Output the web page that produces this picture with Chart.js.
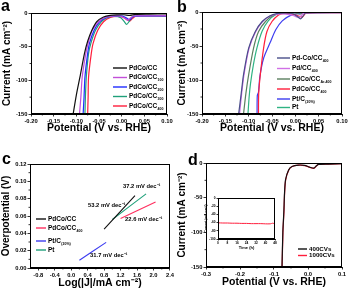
<!DOCTYPE html>
<html>
<head>
<meta charset="utf-8">
<script src="https://cdn.jsdelivr.net/npm/chart.js@4.4.1/dist/chart.umd.min.js"></script>
<style>
  html, body { margin: 0; padding: 0; background: #fff; width: 349px; height: 291px; overflow: hidden; }
  .panel { position: absolute; }
  .panel canvas { display: block; }
  .letter { position: absolute; font: bold 16px "Liberation Sans", Arial, sans-serif; line-height: 16px; color: #000; }
</style>
</head>
<body>
<div class="panel" style="left:0;top:0"><canvas id="chart-a" width="175" height="145"></canvas></div>
<div class="panel" style="left:175px;top:0"><canvas id="chart-b" width="174" height="145"></canvas></div>
<div class="panel" style="left:0;top:145px"><canvas id="chart-c" width="175" height="146"></canvas></div>
<div class="panel" style="left:175px;top:145px"><canvas id="chart-d" width="174" height="146"></canvas></div>
<div class="panel" style="left:203px;top:193px"><canvas id="chart-inset" width="76" height="58"></canvas></div>
<div class="letter" style="left:1px;top:-2px">a</div>
<div class="letter" style="left:177px;top:-1px">b</div>
<div class="letter" style="left:2px;top:151px">c</div>
<div class="letter" style="left:188px;top:152px">d</div>

<script>
/* ============================================================
   LSV / Tafel — PdCo/CC, 4 panneaux
   ============================================================ */

/* ── Panneau a : LSV [potentiel (V), courant (mA cm-2)] ── */
const A_PDCO_CC  = [[-0.107,-150],[-0.100,-122],[-0.092,-95],[-0.082,-60],[-0.075,-42],[-0.066,-26],[-0.055,-13],[-0.040,-6],[-0.025,-3.5],[-0.010,-2.8],[0.005,-2.6],[0.018,-3.5],[0.030,-2],[0.060,-1.6],[0.100,-1.4]];
const A_PDCO_100 = [[-0.093,-150],[-0.090,-125],[-0.087,-95],[-0.079,-60],[-0.074,-45],[-0.065,-26],[-0.051,-13],[-0.036,-6.5],[-0.020,-4.5],[-0.005,-4.5],[0.006,-7.5],[0.013,-11],[0.020,-7],[0.026,-4.5],[0.050,-4.3],[0.100,-4]];
const A_PDCO_200 = [[-0.085,-150],[-0.083,-125],[-0.081,-95],[-0.075,-60],[-0.071,-45],[-0.061,-26],[-0.049,-13],[-0.034,-6.5],[-0.018,-4.5],[0.002,-4.5],[0.011,-7.5],[0.018,-10],[0.024,-6],[0.030,-4.6],[0.060,-4.4],[0.100,-4.2]];
const A_PDCO_300 = [[-0.081,-150],[-0.080,-125],[-0.078,-95],[-0.073,-60],[-0.068,-45],[-0.058,-26],[-0.045,-13],[-0.031,-6.5],[-0.015,-5],[-0.002,-7],[0.005,-12],[0.011,-17],[0.016,-13],[0.022,-6.5],[0.030,-4.8],[0.060,-4.6],[0.100,-4.4]];
const A_PDCO_400 = [[-0.075,-150],[-0.074,-125],[-0.073,-95],[-0.067,-60],[-0.063,-45],[-0.053,-26],[-0.040,-13],[-0.025,-6.5],[-0.010,-5],[0.004,-6.5],[0.012,-10],[0.018,-12],[0.024,-8],[0.030,-5],[0.060,-4.8],[0.100,-4.6]];

/* ── Panneau b : LSV comparaison catalyseurs ── */
const B_PD_CO_400  = [[-0.1215,-150],[-0.116,-120],[-0.111,-92],[-0.100,-53],[-0.086,-29],[-0.071,-14],[-0.055,-6],[-0.040,-2.5],[-0.020,-1.5],[-0.005,-2.5],[0.005,-7],[0.011,-10],[0.016,-6.5],[0.022,-1.5],[0.050,-1],[0.100,-0.8]];
const B_PD_400     = [[-0.1195,-150],[-0.115,-120],[-0.110,-92],[-0.099,-53],[-0.085,-29],[-0.070,-14],[-0.054,-6],[-0.038,-3],[-0.020,-3],[-0.005,-5],[0.004,-7.5],[0.010,-7],[0.018,-2],[0.050,-1],[0.100,-0.8]];
const B_PDCO_AR400 = [[-0.111,-150],[-0.106,-120],[-0.100,-92],[-0.0895,-53],[-0.079,-29],[-0.064,-14],[-0.048,-5],[-0.030,-1.5],[0.000,-1.5],[0.010,-3],[0.020,-1],[0.100,-0.5]];
const B_PDCO_400   = [[-0.0790,-150],[-0.0785,-120],[-0.075,-92],[-0.068,-53],[-0.061,-29],[-0.050,-14],[-0.036,-4.5],[-0.025,-2],[-0.005,-3],[0.007,-6],[0.015,-7.5],[0.022,-2],[0.050,-1],[0.100,-0.8]];
const B_PT_C20     = [[-0.0820,-150],[-0.0815,-123],[-0.079,-118],[-0.076,-95],[-0.068,-68],[-0.054,-45],[-0.042,-26],[-0.028,-13],[-0.010,-5],[0.010,-2],[0.030,-1],[0.100,-0.6]];
const B_PT         = [[-0.1015,-150],[-0.099,-125],[-0.096,-105],[-0.090,-78],[-0.082,-52],[-0.071,-28],[-0.058,-13],[-0.043,-4.5],[-0.025,-1.5],[0.000,-1],[0.100,-0.5]];

/* ── Panneau c : droites de Tafel [log|J|, surtension (V)] ── */
const C_PDCO_CC  = [[0.80,0.0449],[1.55,0.0836]];
const C_PDCO_400 = [[1.20,0.0570],[2.05,0.0762]];
const C_PT_C20   = [[0.20,0.0090],[0.85,0.0296]];
const C_PT       = [[1.00,0.0560],[1.82,0.0855]];
const C_SLOPES   = ['37.2 mV dec⁻¹', '53.2 mV dec⁻¹', '22.6 mV dec⁻¹', '31.7 mV dec⁻¹'];
const C_SLOPE_AT = [[1.26,0.0936],[0.41,0.0728],[1.31,0.0556],[0.46,0.0142]];

/* ── Panneau d : stabilité (400 / 1000 cycles) ── */
const D_400CV  = [[-0.0765,-150],[-0.074,-100],[-0.071,-70],[-0.069,-43],[-0.066,-24],[-0.057,-10],[-0.047,-5],[-0.028,-3],[-0.010,-3.5],[0.005,-6],[0.017,-7.5],[0.025,-4],[0.031,-2],[0.060,-1.5],[0.100,-1]];
const D_1000CV = [[-0.0762,-150],[-0.0737,-100],[-0.0707,-70],[-0.0687,-43],[-0.0655,-24],[-0.0565,-10],[-0.0465,-5],[-0.028,-3.2],[-0.010,-3.7],[0.005,-6.2],[0.017,-7.8],[0.025,-4.2],[0.031,-2],[0.060,-1.5],[0.100,-1]];
const INSET_TIME    = [0, 4, 8, 12, 16, 20, 24, 28, 32, 36, 40, 44, 46, 48];
const INSET_CURRENT = [-60.5, -61, -61, -61.5, -61.5, -62, -62, -62.5, -62.5, -62.5, -63, -63, -61.5, -63];

/* ── Graduations (principales / secondaires) ── */
const LSV_X_TICKS   = [-0.20, -0.15, -0.10, -0.05, 0.00, 0.05, 0.10];
const LSV_X_MINOR   = [-0.175, -0.125, -0.075, -0.025, 0.025, 0.075];
const LSV_Y_TICKS   = [-150, -100, -50, 0];
const LSV_Y_MINOR   = [-125, -75, -25];
const TAFEL_X_TICKS = [-0.8, -0.4, 0.0, 0.4, 0.8, 1.2, 1.6, 2.0, 2.4];
const TAFEL_X_MINOR = [-0.6, -0.2, 0.2, 0.6, 1.0, 1.4, 1.8, 2.2];
const TAFEL_Y_TICKS = [0.00, 0.02, 0.04, 0.06, 0.08, 0.10, 0.12];
const TAFEL_Y_MINOR = [0.01, 0.03, 0.05, 0.07, 0.09, 0.11];
const D_X_TICKS     = [-0.3, -0.2, -0.1, 0.0, 0.1];
const D_X_MINOR     = [-0.25, -0.15, -0.05, 0.05];
const INSET_X_TICKS = [0, 8, 16, 24, 32, 40, 48];
const INSET_Y_TICKS = [0, -20, -40, -60, -80, -100];

const COLORS = {
  black: '#111111',
  purple: '#c24fd8',
  blue: '#1f2bff',
  teal: '#1fa07a',
  red: '#ff1e3c',
  slate: '#4a4f8a',
  violet: '#d070e6',
  olive: '#5b7f5f',
  ptBlue: '#3d3df0',
  green: '#2fb383',
  pink: '#ff2f5f',
};

const FONT = '"Liberation Sans", Arial, sans-serif';
Chart.defaults.font.family = FONT;
Chart.defaults.color = '#000';

const toXY = pts => pts.map(p => ({ x: p[0], y: p[1] }));
const series = (label, sub, pts, color) => ({ label, sub, data: toXY(pts), borderColor: color, backgroundColor: color });

/* ── Cadre complet + graduations secondaires ── */
const framePlugin = {
  id: 'frame',
  afterDatasetsDraw(chart, args, opts) {
    const { ctx, chartArea: a, scales } = chart;
    ctx.save();
    ctx.strokeStyle = '#000';
    ctx.lineWidth = 1;
    ctx.strokeRect(Math.round(a.left) + 0.5, Math.round(a.top) + 0.5, Math.round(a.right - a.left) - 1, Math.round(a.bottom - a.top) - 1);
    ctx.lineWidth = 0.8;
    ctx.beginPath();
    (opts.minorX || []).forEach(v => {
      const px = scales.x.getPixelForValue(v);
      ctx.moveTo(px, a.bottom);
      ctx.lineTo(px, a.bottom + 1.5);
    });
    (opts.minorY || []).forEach(v => {
      const py = scales.y.getPixelForValue(v);
      ctx.moveTo(a.left, py);
      ctx.lineTo(a.left - 1.5, py);
    });
    ctx.stroke();
    ctx.restore();
  }
};

/* ── Légende dessinée dans la zone de tracé (avec indices) ── */
const inLegendPlugin = {
  id: 'inLegend',
  afterDraw(chart, args, opts) {
    if (!opts || !opts.ys) return;
    const ctx = chart.ctx;
    ctx.save();
    ctx.textBaseline = 'middle';
    chart.data.datasets.forEach((ds, i) => {
      const y = opts.ys[i];
      ctx.strokeStyle = ds.borderColor;
      ctx.lineWidth = 1.4;
      ctx.beginPath();
      ctx.moveTo(opts.x, y);
      ctx.lineTo(opts.x + opts.lineLen, y);
      ctx.stroke();
      const tx = opts.x + opts.lineLen + 2;
      ctx.fillStyle = '#000';
      ctx.font = `bold ${opts.size}px ${FONT}`;
      ctx.fillText(ds.label, tx, y);
      if (ds.sub) {
        const w = ctx.measureText(ds.label).width;
        ctx.font = `bold ${opts.size * 0.55}px ${FONT}`;
        ctx.fillText(ds.sub, tx + w + 0.3, y + opts.size * 0.45);
      }
    });
    ctx.restore();
  }
};

/* ── Pentes de Tafel (positionnées en coordonnées de données) ── */
const slopeLabelPlugin = {
  id: 'slopeLabels',
  afterDraw(chart, args, opts) {
    if (!opts || !opts.texts) return;
    const { ctx, scales } = chart;
    ctx.save();
    ctx.fillStyle = '#000';
    ctx.font = `bold ${opts.size}px ${FONT}`;
    ctx.textBaseline = 'middle';
    opts.texts.forEach((t, i) => {
      ctx.fillText(t, scales.x.getPixelForValue(opts.at[i][0]), scales.y.getPixelForValue(opts.at[i][1]));
    });
    ctx.restore();
  }
};

Chart.register(inLegendPlugin, slopeLabelPlugin);

function axis(a, horizontal, size) {
  return {
    type: 'linear',
    min: a.min,
    max: a.max,
    afterBuildTicks: s => { s.ticks = a.ticks.map(v => ({ value: v })); },
    afterFit: s => { if (horizontal) s.height = size; else s.width = size; },
    ticks: {
      font: { size: a.tickSize || 5.8, weight: 'bold' },
      color: '#000',
      padding: a.tickPad || 1,
      maxRotation: 0,
      autoSkip: false,
      callback: v => v.toFixed(a.dec),
    },
    grid: { drawOnChartArea: false, tickLength: a.tickLen || 2.5, color: '#000', lineWidth: 0.8 },
    border: { color: '#000', width: 1 },
    title: {
      display: true,
      text: a.title,
      font: { size: a.titleSize || 10.5, weight: 'bold' },
      color: '#000',
      padding: a.titlePad,
    },
  };
}

/* ── Création d'un panneau : box = bords de la zone de tracé dans le canvas ── */
function makePanel(id, box, cfg) {
  const cv = document.getElementById(id);
  return new Chart(cv, {
    type: 'line',
    data: { datasets: cfg.datasets },
    options: {
      responsive: false,
      animation: false,
      layout: { padding: { top: box.t, right: cv.width - box.r, left: 0, bottom: 0 } },
      elements: { point: { radius: 0 }, line: { borderWidth: cfg.lineWidth || 1.2, tension: 0.25 } },
      plugins: {
        legend: { display: false },
        tooltip: { enabled: false },
        frame: { minorX: cfg.x.minor, minorY: cfg.y.minor },
        inLegend: cfg.legend || {},
        slopeLabels: cfg.notes || {},
      },
      scales: {
        x: axis(cfg.x, true, cv.height - box.b),
        y: axis(cfg.y, false, box.l),
      },
    },
    plugins: [framePlugin],
  });
}

const CURRENT_TITLE = 'Current (mA cm⁻²)';
const POTENTIAL_TITLE = 'Potential (V vs. RHE)';

/* ── a ── */
makePanel('chart-a', { l: 31, t: 13, r: 167, b: 114 }, {
  datasets: [
    series('PdCo/CC', '', A_PDCO_CC, COLORS.black),
    series('PdCo/CC', '100', A_PDCO_100, COLORS.purple),
    series('PdCo/CC', '200', A_PDCO_200, COLORS.blue),
    series('PdCo/CC', '300', A_PDCO_300, COLORS.teal),
    series('PdCo/CC', '400', A_PDCO_400, COLORS.red),
  ],
  x: { min: -0.2, max: 0.1, ticks: LSV_X_TICKS, minor: LSV_X_MINOR, dec: 2, title: POTENTIAL_TITLE, titlePad: { top: 0, bottom: 10.5 } },
  y: { min: -150, max: 0, ticks: LSV_Y_TICKS, minor: LSV_Y_MINOR, dec: 0, title: CURRENT_TITLE, titleSize: 10, titlePad: { top: 1, bottom: 0 } },
  legend: { x: 113, lineLen: 14, size: 6.5, ys: [68, 77.5, 87, 96.5, 106] },
});

/* ── b ── */
makePanel('chart-b', { l: 27, t: 12, r: 167, b: 114 }, {
  datasets: [
    series('Pd-Co/CC', '400', B_PD_CO_400, COLORS.slate),
    series('Pd/CC', '400', B_PD_400, COLORS.violet),
    series('PdCo/CC', 'Ar-400', B_PDCO_AR400, COLORS.olive),
    series('PdCo/CC', '400', B_PDCO_400, COLORS.red),
    series('Pt/C', '(20%)', B_PT_C20, COLORS.ptBlue),
    series('Pt', '', B_PT, COLORS.green),
  ],
  x: { min: -0.2, max: 0.1, ticks: LSV_X_TICKS, minor: LSV_X_MINOR, dec: 2, title: POTENTIAL_TITLE, titlePad: { top: 0, bottom: 10.5 } },
  y: { min: -150, max: 0, ticks: LSV_Y_TICKS, minor: LSV_Y_MINOR, dec: 0, title: CURRENT_TITLE, titleSize: 10, titlePad: { top: 1.5, bottom: 0 } },
  legend: { x: 102, lineLen: 13, size: 6.5, ys: [58, 68.5, 79, 89, 99, 107.5] },
});

/* ── c ── */
makePanel('chart-c', { l: 30, t: 19, r: 170, b: 123 }, {
  datasets: [
    series('PdCo/CC', '', C_PDCO_CC, COLORS.black),
    series('PdCo/CC', '400', C_PDCO_400, COLORS.pink),
    series('Pt/C', '(20%)', C_PT_C20, COLORS.ptBlue),
    series('Pt', '', C_PT, COLORS.teal),
  ],
  lineWidth: 1.1,
  x: { min: -1.0, max: 2.4, ticks: TAFEL_X_TICKS, minor: TAFEL_X_MINOR, dec: 1, title: 'Log(|J|/mA cm⁻²)', titlePad: { top: 0, bottom: 2 } },
  y: { min: 0, max: 0.12, ticks: TAFEL_Y_TICKS, minor: TAFEL_Y_MINOR, dec: 2, title: 'Overpotential (V)', titleSize: 10, titlePad: { top: 0.5, bottom: 0 } },
  legend: { x: 36, lineLen: 10, size: 6.5, ys: [74, 83, 96, 105] },
  notes: { size: 5.8, texts: C_SLOPES, at: C_SLOPE_AT },
});

/* ── d ── */
makePanel('chart-d', { l: 31, t: 18, r: 167, b: 122 }, {
  datasets: [
    series('400CVs', '', D_400CV, COLORS.black),
    series('1000CVs', '', D_1000CV, COLORS.red),
  ],
  x: { min: -0.3, max: 0.1, ticks: D_X_TICKS, minor: D_X_MINOR, dec: 1, title: POTENTIAL_TITLE, titlePad: { top: 0, bottom: 3 } },
  y: { min: -150, max: 0, ticks: LSV_Y_TICKS, minor: LSV_Y_MINOR, dec: 0, title: CURRENT_TITLE, titleSize: 10, titlePad: { top: 1.5, bottom: 0 } },
  legend: { x: 123, lineLen: 9, size: 6.2, ys: [104, 110.5] },
});

/* ── Encart : chronoampérométrie ── */
makePanel('chart-inset', { l: 15, t: 5, r: 72, b: 46 }, {
  datasets: [ series('', '', INSET_TIME.map((t, i) => [t, INSET_CURRENT[i]]), COLORS.red) ],
  lineWidth: 1,
  x: { min: 0, max: 48, ticks: INSET_X_TICKS, dec: 0, title: 'Time (h)', tickSize: 3.2, tickLen: 1.5, titleSize: 4, titlePad: { top: 0, bottom: 1 } },
  y: { min: -100, max: 0, ticks: INSET_Y_TICKS, dec: 0, title: CURRENT_TITLE, tickSize: 3.2, tickLen: 1.5, titleSize: 3.3, titlePad: { top: 1, bottom: 0 } },
});
</script>
</body>
</html>
